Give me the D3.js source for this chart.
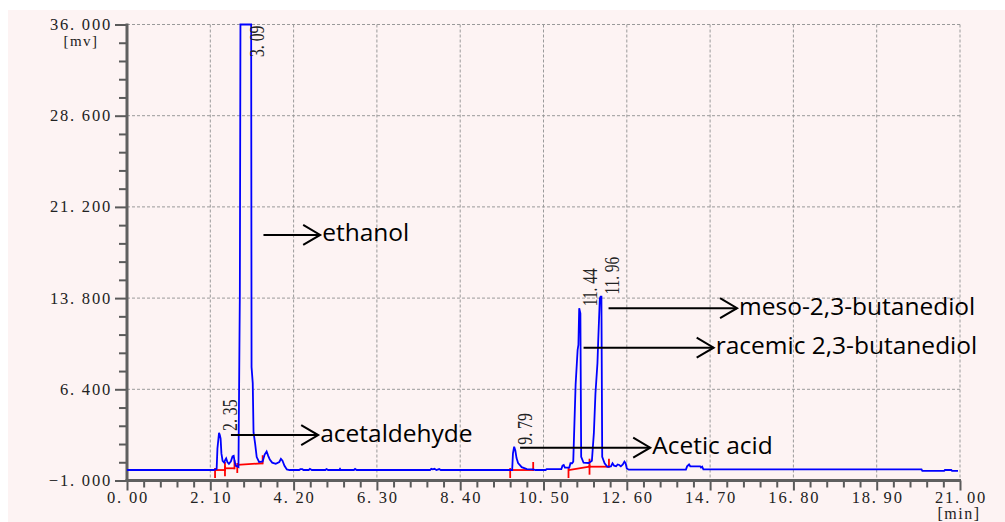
<!DOCTYPE html>
<html><head><meta charset="utf-8">
<script src="https://cdn.jsdelivr.net/npm/d3@7/dist/d3.min.js"></script>
<style>html,body{margin:0;padding:0;background:#fff;}svg{display:block;}</style>
</head><body>
<svg id="chart" width="1005" height="522"></svg>
<script>
// ---- data ----
const times = [0.00,2.19,2.26,2.28,2.32,2.34,2.36,2.38,2.41,2.45,2.48,2.50,2.53,2.57,2.62,2.66,2.69,2.71,2.74,2.78,2.81,2.845,2.86,3.13,3.14,3.17,3.19,3.23,3.27,3.33,3.42,3.47,3.52,3.56,3.60,3.66,3.75,3.84,3.88,3.92,3.97,4.03,4.10,
  4.34,4.37,4.42,4.45,4.58,4.61,4.66,5.00,5.03,5.07,5.35,5.37,5.39,5.72,5.75,5.79,7.64,7.67,7.71,7.75,7.80,7.87,7.91,
  9.71,9.73,9.76,9.79,9.82,9.86,9.95,10.08,10.24,10.30,10.55,10.58,10.95,10.98,11.01,11.04,11.15,11.18,11.22,11.25,11.31,11.36,11.38,11.40,11.43,11.45,11.51,11.64,11.72,11.77,11.81,11.86,11.88,11.92,11.94,11.96,11.98,12.04,12.11,12.20,12.24,12.28,12.33,12.37,12.41,12.45,12.50,12.54,12.57,12.60,12.65,
  14.09,14.12,14.17,14.20,14.45,14.47,14.50,14.53,20.03,20.05,20.60,20.62,20.78,20.80,20.95];
const signal = [-0.15,-0.15,-0.05,1.6,2.86,2.7,2.4,1.2,0.6,0.45,0.7,0.8,0.5,0.35,0.55,0.95,1.0,0.6,0.2,0.15,0.1,14.2,36,36,8.2,6.9,2.9,2.0,0.9,0.5,0.55,1.1,1.35,1.0,0.7,0.45,0.35,0.5,0.75,0.6,0.2,-0.1,-0.15,
  -0.15,-0.08,-0.08,-0.15,-0.15,-0.05,-0.15,-0.15,-0.07,-0.15,-0.15,-0.05,-0.15,-0.15,-0.06,-0.15,-0.15,-0.05,-0.1,-0.05,-0.15,-0.07,-0.15,
  -0.15,1.2,1.74,1.43,0.82,0.41,0.08,-0.08,-0.1,-0.15,-0.15,-0.08,-0.08,0.2,0.26,0.05,0.05,0.4,0.4,0.53,6.81,9.59,10.0,12.98,12.57,0.93,0.44,0.42,0.6,2.86,6.08,8.51,10.4,13.78,13.92,13.92,0.93,0.4,0.12,0.15,0.4,0.2,0.15,0.3,0.26,0.15,0.3,0.53,0.4,-0.02,-0.12,
  -0.12,0.15,0.3,0.15,0.15,0.05,0.12,-0.1,-0.1,-0.22,-0.22,-0.15,-0.15,-0.22,-0.22];

const xTicks = [0,2.1,4.2,6.3,8.4,10.5,12.6,14.7,16.8,18.9,21];
const yTicks = [-1,6.4,13.8,21.2,28.6,36];

const peakTimes  = [2.32, 2.99, 9.76, 11.40, 11.95];
const peakValues = [2.86, 36, 1.74, 12.98, 13.92];
const peakLabels = ["2.35","3.09","9.79","11.44","11.96"];

const integStart    = [2.22, 2.47, 2.78, 9.66, 11.13, 11.66];
const integStartVal = [-0.15, -0.01, 0.26, -0.15, -0.15, 0.12];
const integEnd      = [2.47, 2.71, 3.42, 10.24, 11.66, 12.15];
const integEndVal   = [-0.15, -0.01, 0.40, -0.15, 0.12, 0.12];

const compounds  = ["acetaldehyde","ethanol","Acetic acid","racemic 2,3-butanediol","meso-2,3-butanediol"];
const arrowFrom  = [2.62, 3.44, 9.91, 11.51, 12.14];
const arrowTo    = [4.82, 4.87, 13.19, 14.79, 15.38];
const arrowLevel = [2.69, 18.93, 1.66, 9.78, 12.98];

// ---- drawing ----
const svg = d3.select("#chart");
const x = d3.scaleLinear().domain([0,21]).range([127,960]);
const y = d3.scaleLinear().domain([-1,36]).range([480.5,24.5]);
const serif = "'Liberation Serif','Times New Roman',serif";

svg.append("rect").attr("x",8).attr("y",10).attr("width",997).attr("height",512).attr("fill","#fdf3f3");

// grid
const grid = svg.append("g").attr("stroke","#9a9a9a").attr("stroke-width",1).attr("stroke-dasharray","3,2");
grid.selectAll("line.v").data(xTicks.slice(1)).join("line")
  .attr("x1",d=>x(d)).attr("x2",d=>x(d)).attr("y1",y(36)).attr("y2",y(-1));
grid.selectAll("line.h").data(yTicks.slice(1)).join("line")
  .attr("x1",x(0)).attr("x2",x(21)).attr("y1",d=>y(d)).attr("y2",d=>y(d));

// axes
const xMinor = d3.range(0,50+1).map(i=>i*0.42).filter(v=>v<=21.001);
const yMinor = d3.range(0,25+1).map(i=>-1+i*1.48);
const xAxis = d3.axisBottom(x).tickValues(xMinor).tickSize(7).tickFormat("");
const gx = svg.append("g").attr("transform",`translate(0,${y(-1)})`).call(xAxis);
const yAxis = d3.axisLeft(y).tickValues(yMinor).tickSize(8).tickFormat("");
const gy = svg.append("g").attr("transform",`translate(${x(0)},0)`).call(yAxis);
[gx,gy].forEach(g=>{
  g.select(".domain").remove();
  g.selectAll(".tick line").attr("stroke","#5a5a5a").attr("stroke-width",2);
});
gx.selectAll(".tick line").attr("y2",d=> xTicks.some(t=>Math.abs(t-d)<1e-6)?10:7);
gy.selectAll(".tick line").attr("x2",d=> yTicks.some(t=>Math.abs(t-d)<1e-6)?-12:-8);
svg.append("line").attr("x1",x(0)).attr("x2",x(0)).attr("y1",y(36)-1).attr("y2",y(-1)+1.5).attr("stroke","#5f5f5f").attr("stroke-width",3);
svg.append("line").attr("x1",x(0)-1.5).attr("x2",x(21)+1).attr("y1",y(-1)).attr("y2",y(-1)).attr("stroke","#5f5f5f").attr("stroke-width",3);

const fmtY = v => (v<0?"\u2212":"") + d3.format(".3f")(Math.abs(v)).replace(".",". ");
const fmtX = v => d3.format(".2f")(v).replace(".",". ");
svg.append("g").selectAll("text").data(yTicks).join("text")
  .attr("x",112).attr("y",d=>y(d)).attr("dy","0.33em").attr("text-anchor","end")
  .attr("font-family",serif).attr("font-size",16.5).attr("letter-spacing",1.8).attr("fill","#222")
  .text(fmtY);
svg.append("g").selectAll("text").data(xTicks).join("text")
  .attr("x",d=>x(d)+1).attr("y",503).attr("text-anchor","middle")
  .attr("font-family",serif).attr("font-size",16.5).attr("letter-spacing",1.8).attr("fill","#222")
  .text(fmtX);
svg.append("text").attr("x",81).attr("y",46).attr("text-anchor","middle").attr("font-family",serif)
  .attr("font-size",15).attr("letter-spacing",1.5).attr("fill","#222").text("[mv]");
svg.append("text").attr("x",959).attr("y",519).attr("text-anchor","middle").attr("font-family",serif)
  .attr("font-size",16).attr("letter-spacing",1.5).attr("fill","#222").text("[min]");

// integration baselines (red)
const red = svg.append("g").attr("stroke","#ff0000").attr("stroke-width",1.8).attr("fill","none");
integStart.forEach((s,i)=>{
  const x0=x(s), y0=y(integStartVal[i]), x1=x(integEnd[i]), y1=y(integEndVal[i]);
  red.append("line").attr("x1",x0).attr("y1",y0).attr("x2",x1).attr("y2",y1);
  red.append("line").attr("x1",x0).attr("y1",y0-2).attr("x2",x0).attr("y2",y0+8);
  red.append("line").attr("x1",x1).attr("y1",y1-8).attr("x2",x1).attr("y2",y1+1);
});

// chromatogram trace
const pts = times.map((t,i)=>[t,signal[i]]);
svg.append("path").datum(pts)
  .attr("d",d3.line().x(d=>x(d[0])).y(d=>y(d[1])))
  .attr("fill","none").attr("stroke","#0000ff").attr("stroke-width",1.8).attr("stroke-linejoin","miter");

// peak retention-time labels (rotated)
peakLabels.forEach((lab,i)=>{
  const px = x(peakTimes[i]) + 18;
  const txt = lab.replace(".",". ");
  const len = txt.length*6.3;
  let py = y(peakValues[i]) - 2, anchor = "start";
  if (py - len < y(36)) { py = y(36) + 1; anchor = "end"; }
  svg.append("text").attr("transform",`translate(${px},${py}) rotate(-90)`)
    .attr("text-anchor",anchor).attr("font-family",serif).attr("font-size",20)
    .attr("textLength",len).attr("lengthAdjust","spacingAndGlyphs")
    .attr("fill","#222").text(txt);
});

// compound annotations
const ann = svg.append("g");
compounds.forEach((c,i)=>{
  const x0=x(arrowFrom[i]), x1=x(arrowTo[i]), yy=y(arrowLevel[i]);
  ann.append("line").attr("x1",x0).attr("x2",x1).attr("y1",yy).attr("y2",yy)
    .attr("stroke","#000").attr("stroke-width",2);
  ann.append("polyline").attr("points",`${x1-17},${yy-10} ${x1},${yy} ${x1-17},${yy+10}`)
    .attr("fill","none").attr("stroke","#000").attr("stroke-width",2);
  ann.append("text").attr("x",x1+2).attr("y",yy+6.5)
    .attr("font-family","'Open Sans',sans-serif").attr("font-size",24.5).attr("fill","#000").text(c);
});
</script>
</body></html>
